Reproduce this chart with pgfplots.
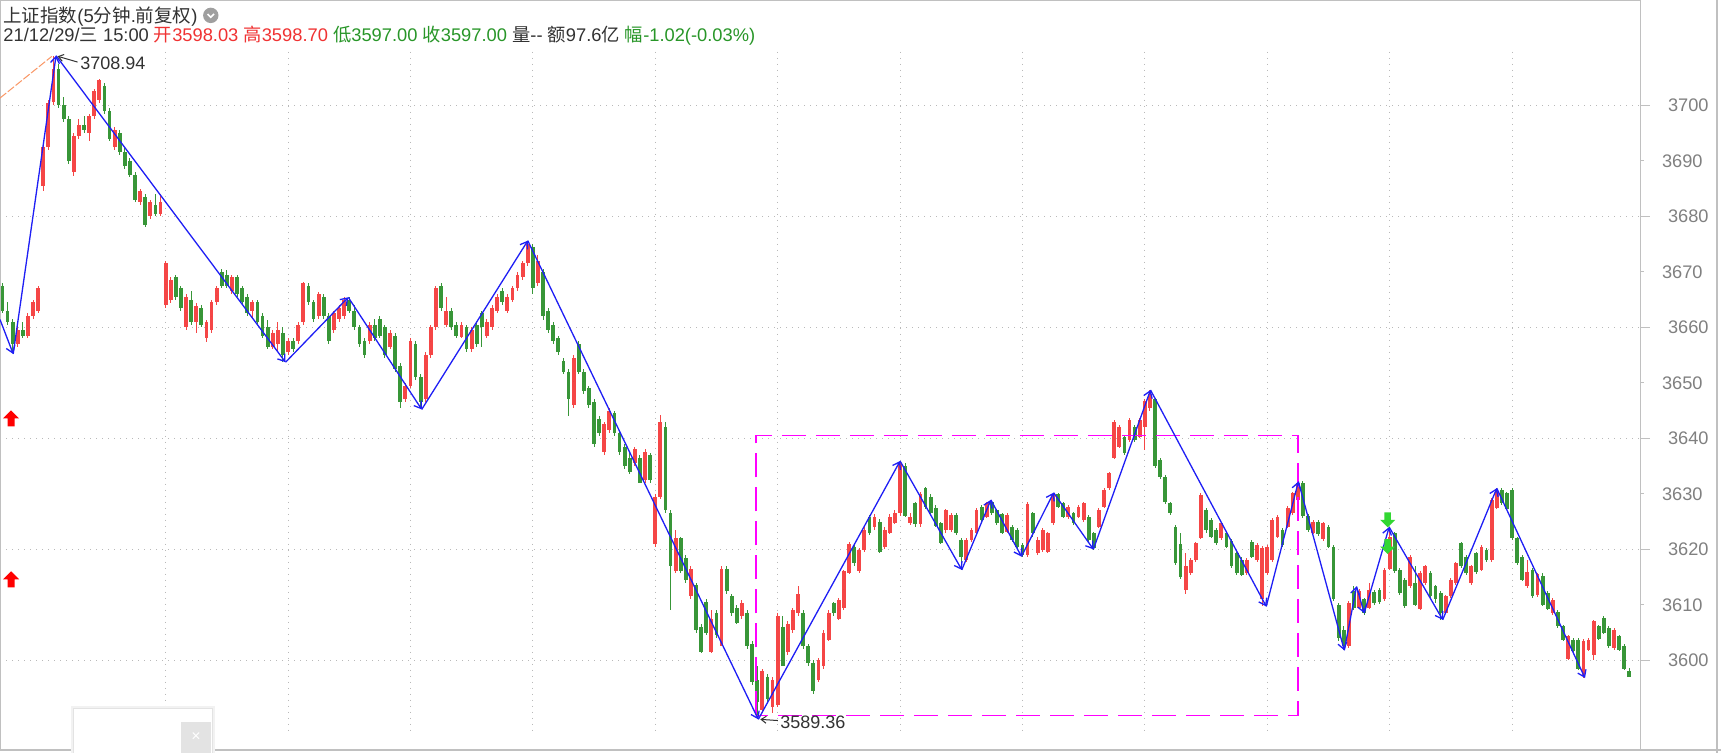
\documentclass[border=0pt]{standalone}
\usepackage{fontspec}
\setmainfont{Liberation Sans}
\newfontfamily\cjkfont{Noto Sans CJK SC}
\newcommand{\cn}[1]{{\cjkfont #1}}
\usepackage{pgfplots}
\pgfplotsset{compat=1.18}
\usepackage{pgfplotstable}
\usetikzlibrary{arrows.meta}

\definecolor{upred}{RGB}{245,70,70}
\definecolor{dngreen}{RGB}{56,150,56}
\definecolor{zzblue}{RGB}{30,30,245}
\definecolor{framegray}{RGB}{192,192,192}
\definecolor{gridgray}{RGB}{185,185,185}
\definecolor{labelgray}{RGB}{128,128,128}
\definecolor{hdrtext}{RGB}{50,50,50}
\definecolor{hdrred}{RGB}{240,50,50}
\definecolor{hdrgreen}{RGB}{40,150,40}
\definecolor{boxmag}{RGB}{255,0,255}
\definecolor{maorange}{RGB}{250,150,100}
\definecolor{sigred}{RGB}{255,0,0}
\definecolor{siggreen}{RGB}{50,215,50}

% block arrows used as signal marks
\pgfdeclareplotmark{sigup}{%
  \pgfpathmoveto{\pgfqpoint{0pt}{4pt}}%
  \pgfpathlineto{\pgfqpoint{4pt}{0pt}}%
  \pgfpathlineto{\pgfqpoint{1.75pt}{0pt}}%
  \pgfpathlineto{\pgfqpoint{1.75pt}{-4pt}}%
  \pgfpathlineto{\pgfqpoint{-1.75pt}{-4pt}}%
  \pgfpathlineto{\pgfqpoint{-1.75pt}{0pt}}%
  \pgfpathlineto{\pgfqpoint{-4pt}{0pt}}%
  \pgfpathclose\pgfusepathqfill}
\pgfdeclareplotmark{sigdown}{%
  \pgfpathmoveto{\pgfqpoint{0pt}{-3.75pt}}%
  \pgfpathlineto{\pgfqpoint{3.75pt}{0pt}}%
  \pgfpathlineto{\pgfqpoint{1.6pt}{0pt}}%
  \pgfpathlineto{\pgfqpoint{1.6pt}{3.75pt}}%
  \pgfpathlineto{\pgfqpoint{-1.6pt}{3.75pt}}%
  \pgfpathlineto{\pgfqpoint{-1.6pt}{0pt}}%
  \pgfpathlineto{\pgfqpoint{-3.75pt}{0pt}}%
  \pgfpathclose\pgfusepathqfill}

% candle styles: wick or body drawn as a vertical error bar, no point mark
\pgfplotsset{
  candle/.style 2 args={only marks, mark=*, mark size=0pt,
    mark options={draw=none, fill=none}, forget plot,
    error bars/y dir=both, error bars/y explicit, error bars/error mark=none,
    error bars/error bar style={draw=#1, line width=#2}},
}

% 10-minute candles (two 5-minute bars each): index, open, high, low, close
\pgfplotstableread{
i o h l c
0 3667.5 3668.0 3662.5 3663.0
1 3663.0 3664.5 3660.5 3661.0
2 3661.0 3661.5 3655.4 3657.0
3 3657.0 3660.0 3656.5 3659.5
4 3659.5 3661.0 3658.0 3658.5
5 3658.5 3662.5 3658.0 3662.0
6 3662.0 3665.0 3661.5 3664.5
7 3663.0 3667.5 3662.5 3667.0
8 3685.5 3693.0 3684.5 3692.5
9 3692.5 3701.0 3692.0 3700.5
10 3700.5 3708.94 3700.0 3706.5
11 3706.5 3707.5 3699.5 3700.0
12 3700.0 3701.5 3697.0 3697.5
13 3697.5 3698.0 3689.5 3690.0
14 3688.0 3695.0 3687.2 3694.5
15 3694.5 3697.5 3694.0 3696.5
16 3696.5 3698.0 3695.0 3695.5
17 3695.0 3698.5 3693.5 3698.0
18 3698.0 3703.0 3697.5 3702.5
19 3701.0 3704.8 3700.5 3704.5
20 3703.5 3704.0 3698.5 3699.0
21 3699.0 3699.5 3693.5 3694.0
22 3692.5 3696.0 3692.0 3695.5
23 3695.0 3695.5 3691.0 3691.5
24 3691.5 3692.5 3688.5 3689.0
25 3690.0 3690.5 3687.0 3687.5
26 3687.5 3688.0 3682.5 3683.0
27 3682.5 3685.0 3682.0 3684.5
28 3683.5 3684.0 3678.0 3678.5
29 3680.0 3683.0 3679.5 3682.5
30 3682.0 3684.0 3680.0 3680.5
31 3680.5 3684.0 3680.0 3682.5
32 3664.0 3672.0 3663.5 3671.5
33 3665.0 3669.0 3664.3 3668.5
34 3669.0 3669.5 3665.0 3665.5
35 3667.0 3667.5 3663.0 3663.5
36 3660.0 3666.0 3659.5 3665.5
37 3665.0 3666.5 3660.5 3661.0
38 3661.0 3664.3 3658.9 3663.8
39 3663.5 3664.0 3660.0 3660.5
40 3658.0 3661.3 3657.4 3661.0
41 3659.5 3665.0 3659.0 3664.5
42 3664.5 3667.5 3664.0 3667.0
43 3670.0 3670.5 3667.0 3667.5
44 3669.5 3670.3 3667.0 3667.5
45 3666.5 3669.5 3666.0 3669.0
46 3669.0 3669.5 3665.5 3666.0
47 3667.0 3667.5 3664.0 3664.5
48 3665.5 3666.0 3662.0 3662.5
49 3663.0 3665.0 3661.5 3664.5
50 3664.5 3665.0 3660.5 3661.0
51 3662.0 3662.5 3658.0 3658.5
52 3660.0 3661.3 3656.0 3656.5
53 3656.5 3659.5 3656.0 3659.0
54 3657.0 3661.0 3655.5 3659.5
55 3659.0 3660.0 3653.7 3655.0
56 3655.5 3658.0 3655.0 3657.5
57 3657.5 3658.0 3655.5 3656.0
58 3657.5 3661.0 3657.0 3660.5
59 3661.0 3668.2 3660.5 3668.0
60 3667.5 3668.0 3664.0 3664.5
61 3664.5 3665.0 3661.0 3661.5
62 3662.0 3666.4 3661.5 3666.0
63 3665.5 3666.0 3661.5 3662.0
64 3662.0 3662.5 3657.0 3657.5
65 3659.5 3663.0 3659.0 3662.5
66 3661.5 3664.0 3661.0 3663.5
67 3662.0 3665.4 3661.5 3665.0
68 3665.0 3665.5 3662.5 3663.0
69 3663.0 3664.0 3659.5 3660.0
70 3660.0 3660.5 3656.5 3657.0
71 3657.5 3658.0 3654.5 3655.0
72 3657.5 3661.0 3657.0 3660.5
73 3660.5 3661.5 3657.5 3658.0
74 3661.5 3662.0 3658.0 3658.5
75 3660.0 3660.5 3654.5 3655.0
76 3656.5 3659.5 3656.0 3659.0
77 3658.5 3659.0 3652.0 3652.5
78 3653.0 3653.5 3645.5 3646.5
79 3647.0 3650.0 3646.5 3649.5
80 3649.5 3658.0 3649.0 3657.5
81 3657.0 3657.5 3650.5 3651.0
82 3651.0 3651.5 3645.2 3646.5
83 3647.0 3655.5 3646.5 3655.0
84 3655.0 3660.5 3654.5 3660.0
85 3660.0 3667.5 3659.5 3667.0
86 3667.5 3668.0 3663.0 3663.5
87 3660.5 3665.5 3660.0 3663.0
88 3663.0 3663.5 3659.5 3660.0
89 3660.5 3661.0 3658.0 3658.5
90 3658.3 3661.0 3658.0 3660.4
91 3660.0 3660.5 3655.5 3656.0
92 3656.0 3660.0 3655.5 3659.5
93 3660.5 3661.0 3656.5 3657.0
94 3662.5 3663.0 3656.5 3660.0
95 3658.5 3661.5 3658.0 3661.0
96 3660.0 3664.0 3659.5 3663.5
97 3663.0 3666.0 3662.5 3665.5
98 3666.5 3667.0 3664.0 3664.5
99 3663.0 3666.0 3662.5 3665.5
100 3665.0 3667.5 3664.5 3667.0
101 3667.0 3670.0 3666.5 3669.5
102 3669.0 3672.0 3668.5 3671.5
103 3671.5 3675.6 3671.0 3675.0
104 3674.5 3675.0 3666.0 3667.0
105 3668.0 3673.0 3667.5 3672.0
106 3670.0 3670.5 3661.3 3662.0
107 3663.0 3663.5 3659.0 3659.5
108 3660.5 3661.0 3657.0 3657.5
109 3658.0 3658.5 3655.0 3655.5
110 3654.0 3654.5 3651.5 3652.0
111 3652.0 3652.5 3644.0 3647.0
112 3646.0 3655.0 3645.5 3654.5
113 3657.0 3657.5 3651.5 3652.0
114 3652.0 3652.5 3648.0 3648.5
115 3649.0 3649.5 3645.5 3646.0
116 3646.5 3647.0 3638.5 3639.0
117 3643.5 3644.0 3640.5 3641.0
118 3637.5 3643.0 3637.0 3642.5
119 3641.5 3645.5 3641.0 3645.0
120 3644.5 3645.0 3640.5 3641.0
121 3641.0 3641.5 3637.0 3637.5
122 3638.5 3639.0 3634.5 3635.0
123 3636.5 3637.3 3633.5 3634.0
124 3635.5 3638.5 3635.0 3638.0
125 3636.5 3637.0 3631.9 3632.0
126 3632.5 3638.0 3632.0 3637.5
127 3637.0 3637.3 3632.0 3632.5
128 3621.0 3630.0 3620.5 3629.5
129 3629.5 3644.2 3629.0 3643.0
130 3642.0 3643.0 3626.5 3627.0
131 3626.5 3627.0 3609.1 3617.0
132 3616.0 3623.5 3615.7 3622.0
133 3622.0 3622.3 3615.7 3616.0
134 3618.5 3619.0 3614.0 3614.5
135 3611.5 3617.0 3611.0 3616.5
136 3613.5 3614.0 3605.0 3605.5
137 3606.0 3606.5 3601.3 3601.5
138 3610.5 3611.0 3604.5 3605.0
139 3601.5 3609.0 3601.3 3607.5
140 3608.5 3609.1 3604.0 3604.5
141 3602.5 3617.0 3602.5 3616.5
142 3616.5 3617.0 3612.0 3612.5
143 3611.5 3612.0 3608.0 3608.5
144 3609.5 3610.0 3606.5 3606.7
145 3607.9 3610.8 3607.5 3610.3
146 3608.5 3609.0 3602.0 3602.5
147 3603.0 3603.5 3595.5 3596.0
148 3596.5 3599.0 3589.36 3592.5
149 3591.0 3598.5 3590.5 3598.0
150 3597.0 3597.5 3592.5 3593.0
151 3591.5 3597.0 3590.5 3596.5
152 3592.0 3608.5 3591.6 3608.0
153 3606.0 3608.0 3598.9 3599.0
154 3601.5 3607.0 3601.0 3606.5
155 3605.5 3609.5 3605.0 3609.0
156 3608.5 3613.3 3608.0 3612.0
157 3608.5 3609.0 3602.0 3602.5
158 3602.5 3603.0 3599.0 3599.5
159 3599.5 3600.0 3594.0 3594.5
160 3596.5 3600.5 3596.0 3600.0
161 3599.0 3605.5 3598.5 3604.9
162 3603.7 3609.0 3603.5 3608.5
163 3610.3 3610.5 3608.0 3608.5
164 3607.5 3611.2 3607.3 3610.9
165 3609.5 3616.3 3609.1 3616.0
166 3615.7 3621.3 3615.5 3621.0
167 3620.5 3621.0 3617.0 3617.5
168 3616.0 3620.2 3615.7 3619.9
169 3619.9 3624.0 3619.5 3623.5
170 3625.9 3626.2 3622.5 3623.0
171 3624.0 3626.3 3623.5 3625.9
172 3625.0 3625.5 3619.3 3619.5
173 3620.5 3624.0 3620.0 3623.5
174 3623.0 3626.3 3622.7 3625.9
175 3624.7 3627.0 3624.5 3626.5
176 3626.5 3635.9 3626.0 3635.5
177 3635.0 3635.5 3625.8 3626.0
178 3624.7 3626.5 3624.3 3625.9
179 3628.3 3628.6 3624.1 3624.5
180 3624.5 3630.3 3624.1 3630.0
181 3631.0 3631.2 3627.3 3627.7
182 3629.5 3630.0 3626.2 3626.5
183 3627.5 3628.0 3624.0 3624.2
184 3624.7 3625.0 3621.0 3621.2
185 3623.5 3627.3 3623.0 3627.0
186 3623.5 3626.6 3623.2 3626.2
187 3626.2 3626.5 3622.5 3622.9
188 3621.7 3622.0 3616.3 3618.7
189 3618.1 3622.0 3617.8 3621.7
190 3621.7 3623.9 3621.4 3623.5
191 3622.9 3627.4 3622.6 3627.1
192 3627.7 3628.0 3625.0 3625.3
193 3625.9 3628.6 3625.6 3628.3
194 3628.5 3628.9 3626.2 3626.5
195 3627.0 3627.3 3624.4 3624.7
196 3626.3 3626.6 3622.7 3623.0
197 3623.2 3626.5 3622.9 3626.2
198 3624.1 3624.4 3621.4 3621.7
199 3623.5 3623.8 3620.2 3620.5
200 3620.8 3621.1 3618.6 3618.9
201 3618.9 3628.5 3618.6 3628.2
202 3626.5 3626.8 3622.3 3623.0
203 3619.3 3622.2 3619.0 3621.7
204 3619.9 3623.8 3619.6 3623.5
205 3619.6 3623.2 3619.3 3622.9
206 3624.7 3630.2 3624.4 3630.0
207 3630.0 3630.2 3627.4 3627.7
208 3628.3 3628.6 3625.6 3625.9
209 3625.9 3628.0 3625.5 3627.7
210 3626.5 3626.8 3624.4 3624.7
211 3625.9 3628.0 3625.6 3627.7
212 3625.3 3628.6 3625.0 3628.3
213 3625.9 3626.2 3621.4 3621.7
214 3622.9 3623.2 3619.9 3620.2
215 3624.1 3627.4 3623.8 3627.1
216 3627.7 3631.0 3627.4 3630.7
217 3631.0 3634.0 3630.7 3633.7
218 3636.5 3643.3 3636.2 3643.0
219 3638.5 3642.4 3638.2 3642.1
220 3640.3 3640.6 3637.0 3637.3
221 3639.7 3643.6 3639.4 3643.3
222 3642.1 3642.4 3639.4 3639.7
223 3640.3 3643.6 3640.0 3643.3
224 3642.1 3647.0 3637.9 3646.8
225 3645.5 3648.7 3645.0 3648.0
226 3647.0 3647.3 3634.7 3635.0
227 3636.0 3636.4 3632.7 3633.0
228 3633.0 3633.3 3628.2 3628.5
229 3628.3 3628.6 3626.2 3626.5
230 3624.0 3624.3 3617.2 3617.5
231 3621.0 3622.9 3614.7 3615.0
232 3612.7 3619.3 3612.0 3617.0
233 3615.7 3618.4 3615.4 3618.1
234 3618.1 3621.4 3617.8 3621.1
235 3622.0 3630.1 3621.8 3629.8
236 3627.1 3627.4 3622.9 3623.5
237 3625.3 3625.6 3622.0 3622.3
238 3623.5 3623.8 3620.8 3621.1
239 3622.1 3625.0 3621.7 3624.7
240 3622.9 3623.2 3620.2 3620.5
241 3621.5 3621.8 3616.7 3617.0
242 3619.3 3619.6 3615.4 3615.7
243 3618.1 3618.7 3615.1 3615.3
244 3615.7 3618.4 3615.4 3618.1
245 3621.4 3621.7 3618.4 3618.7
246 3618.1 3621.1 3617.8 3620.8
247 3611.0 3620.6 3609.7 3620.3
248 3615.7 3620.8 3615.4 3620.5
249 3618.1 3625.6 3617.8 3625.3
250 3622.3 3626.2 3622.0 3625.9
251 3623.5 3623.8 3620.5 3620.8
252 3624.1 3627.8 3623.8 3627.5
253 3626.5 3630.4 3626.2 3630.1
254 3628.9 3632.3 3628.6 3632.0
255 3632.0 3632.3 3625.7 3626.0
256 3626.0 3626.3 3623.2 3623.5
257 3623.0 3625.3 3622.8 3625.0
258 3625.0 3625.3 3622.4 3622.7
259 3621.8 3625.0 3621.5 3624.7
260 3624.1 3624.4 3620.2 3620.5
261 3620.5 3620.8 3610.7 3611.0
262 3610.0 3610.3 3603.5 3604.0
263 3605.5 3606.1 3601.8 3602.5
264 3602.5 3610.6 3602.2 3610.3
265 3612.5 3613.3 3609.1 3609.5
266 3609.5 3612.8 3609.2 3612.5
267 3611.0 3611.2 3608.2 3608.5
268 3609.5 3613.9 3609.2 3612.7
269 3612.3 3612.6 3610.0 3610.3
270 3612.7 3613.0 3610.2 3610.5
271 3611.0 3616.6 3610.7 3616.3
272 3616.5 3624.0 3616.2 3622.3
273 3622.9 3623.2 3615.7 3616.0
274 3616.3 3616.6 3611.8 3612.1
275 3614.5 3614.8 3609.4 3609.7
276 3613.3 3619.0 3613.0 3618.7
277 3613.9 3616.9 3609.7 3609.9
278 3609.3 3616.0 3609.1 3615.7
279 3613.9 3617.2 3613.6 3616.9
280 3615.7 3616.0 3611.2 3611.5
281 3613.3 3613.6 3610.3 3611.0
282 3612.1 3612.4 3607.3 3608.5
283 3608.6 3611.8 3608.3 3611.5
284 3611.5 3614.8 3611.2 3614.5
285 3613.9 3617.8 3613.6 3617.5
286 3621.1 3621.4 3616.7 3617.0
287 3618.7 3619.0 3615.4 3615.7
288 3613.9 3617.2 3613.6 3616.9
289 3619.3 3619.6 3615.6 3615.9
290 3616.3 3620.8 3616.0 3620.5
291 3619.9 3620.2 3617.8 3618.1
292 3618.1 3629.2 3617.8 3628.9
293 3627.5 3631.0 3627.2 3630.5
294 3630.7 3631.0 3628.0 3628.3
295 3630.1 3630.4 3627.0 3627.3
296 3630.7 3631.0 3621.7 3622.0
297 3622.0 3622.3 3617.2 3617.5
298 3618.7 3619.0 3614.2 3614.5
299 3613.3 3618.1 3613.0 3615.9
300 3616.3 3616.6 3611.2 3611.5
301 3611.7 3615.8 3611.4 3615.5
302 3615.2 3615.7 3609.7 3609.9
303 3612.1 3612.4 3609.0 3609.3
304 3608.5 3611.2 3608.2 3610.9
305 3608.7 3609.0 3605.8 3606.1
306 3606.1 3606.4 3603.4 3603.7
307 3600.3 3604.6 3600.0 3604.3
308 3603.7 3604.0 3601.3 3601.6
309 3603.7 3604.0 3598.3 3598.5
310 3597.2 3603.8 3596.8 3603.5
311 3601.9 3604.0 3601.6 3603.7
312 3601.0 3607.3 3600.1 3607.0
313 3606.1 3606.4 3603.6 3603.9
314 3607.6 3607.9 3604.7 3605.0
315 3605.8 3606.1 3602.2 3602.5
316 3602.3 3605.8 3601.9 3605.5
317 3604.3 3604.6 3601.6 3601.9
318 3602.5 3603.0 3598.2 3598.5
319 3598.03 3598.70 3597.00 3597.00
}\candles

% zigzag legs: start and end of each leg
\pgfplotstableread{
x1 y1 x2 y2
-0.49 3661.4 2.1 3655.2
2.1 3655.2 10.5 3708.94
10.5 3708.94 55.5 3653.7
55.5 3653.7 67.8 3665.4
67.8 3665.4 82.2 3645.2
82.2 3645.2 103.0 3675.6
103.0 3675.6 148.2 3589.36
148.2 3589.36 176.0 3635.9
176.0 3635.9 188.1 3616.3
188.1 3616.3 193.8 3628.9
193.8 3628.9 199.8 3618.7
199.8 3618.7 206.1 3630.2
206.1 3630.2 213.9 3620.0
213.9 3620.0 225.1 3648.7
225.1 3648.7 247.8 3609.7
247.8 3609.7 254.1 3632.2
254.1 3632.2 263.1 3601.8
263.1 3601.8 265.5 3613.3
265.5 3613.3 267.0 3608.5
267.0 3608.5 271.9 3624.0
271.9 3624.0 282.4 3607.3
282.4 3607.3 293.0 3631.0
293.0 3631.0 310.3 3596.8
}\zigzag

\begin{document}
\begin{tikzpicture}
\fill[white] (0,-1.5pt) rectangle (860.5pt,375pt);
\begin{axis}[
  at={(0pt,0pt)}, anchor=south west,
  scale only axis, width=820.25pt, height=375pt,
  xmin=-0.49, xmax=321.18, ymin=3583.84, ymax=3718.97,
  axis line style={draw=framegray, line width=0.75pt},
  xtick=\empty,
  ytick={3600,3620,...,3700},
  extra y ticks={3610,3630,...,3690},
  extra y tick style={grid=none, major tick length=1.5pt},
  ytick pos=right, yticklabel pos=right, tick align=outside,
  major tick length=4.5pt,
  tick style={draw=framegray, line width=0.5pt},
  ymajorgrids,
  grid style={draw=gridgray, line width=0.5pt, dash pattern=on 0.5pt off 2.5pt},
  yticklabel style={font=\fontsize{9.1pt}{11pt}\selectfont, text=labelgray,
    anchor=west, inner sep=0pt, xshift=9.1pt},
  scaled y ticks=false,
  /pgf/number format/1000 sep={},
  /pgf/number format/assume math mode=true,
]
% vertical day grid
\pgfplotsinvokeforeach{32,56,80,104,128,152,176,200,224,248,272,296}{
  \draw[draw=gridgray, line width=0.5pt, dash pattern=on 0.5pt off 2.5pt]
    (axis cs:#1,3709.6) -- (axis cs:#1,3587.4);
}

% wicks
\addplot[restrict expr to domain={\thisrow{c}-\thisrow{o}}{0.001:1000},
  candle={upred}{0.5pt}]
  table[x=i, y expr={0.5*(\thisrow{h}+\thisrow{l})},
        y error expr={0.5*(\thisrow{h}-\thisrow{l})}] {\candles};
\addplot[restrict expr to domain={\thisrow{c}-\thisrow{o}}{-1000:0},
  candle={dngreen}{0.5pt}]
  table[x=i, y expr={0.5*(\thisrow{h}+\thisrow{l})},
        y error expr={0.5*(\thisrow{h}-\thisrow{l})}] {\candles};
% bodies
\addplot[restrict expr to domain={\thisrow{c}-\thisrow{o}}{0.001:1000},
  candle={upred}{1.9pt}]
  table[x=i, y expr={0.5*(\thisrow{o}+\thisrow{c})},
        y error expr={0.5*abs(\thisrow{c}-\thisrow{o})}] {\candles};
\addplot[restrict expr to domain={\thisrow{c}-\thisrow{o}}{-1000:0},
  candle={dngreen}{1.9pt}]
  table[x=i, y expr={0.5*(\thisrow{o}+\thisrow{c})},
        y error expr={0.5*abs(\thisrow{c}-\thisrow{o})}] {\candles};

% short moving-average piece at top left
\addplot[maorange, line width=0.5pt, dash pattern=on 4pt off 1pt]
  coordinates {(-0.49,3701.3) (9.65,3708.8)};

% consolidation box
\addplot[boxmag, line width=0.75pt, dash pattern=on 12pt off 5pt]
  coordinates {(147.7,3590.06) (147.7,3640.5) (254.0,3640.5) (254.0,3590.06) (147.7,3590.06)};

% zigzag
\addplot[zzblue, line width=0.65pt,
  quiver={u=\thisrow{x2}-\thisrow{x1}, v=\thisrow{y2}-\thisrow{y1},
    every arrow/.append style={-{Straight Barb[length=3.2pt,width=4.5pt]}}}]
  table[x=x1, y=y1] {\zigzag};

% signals
\addplot[only marks, mark=sigup, color=sigred] coordinates {(1.67,3643.6) (1.67,3614.6)};
\addplot[only marks, mark=sigdown, color=siggreen] coordinates {(271.6,3625.3) (271.6,3620.5)};

% extreme labels
\draw[hdrtext, line width=0.5pt, -{Straight Barb[length=2.5pt,width=3.5pt]}]
  ([xshift=10.5pt,yshift=-3.2pt]axis cs:10.6,3708.94) -- ([xshift=0.5pt,yshift=-0.3pt]axis cs:10.6,3708.94);
\node[anchor=west, inner sep=0pt, text=hdrtext, font=\fontsize{9pt}{10pt}\selectfont]
  at ([xshift=11.7pt,yshift=-4pt]axis cs:10.6,3708.94) {3708.94};
\draw[hdrtext, line width=0.5pt, -{Straight Barb[length=2.5pt,width=3.5pt]}]
  ([xshift=9.8pt,yshift=-0.6pt]axis cs:148.2,3589.36) -- ([xshift=1pt]axis cs:148.2,3589.36);
\node[anchor=west, inner sep=0pt, text=hdrtext, font=\fontsize{9pt}{10pt}\selectfont]
  at ([xshift=10.85pt,yshift=-1.35pt]axis cs:148.2,3589.36) {3589.36};
\end{axis}

% outer frame pieces
\draw[framegray, line width=0.75pt] (0,0) -- (860.5pt,0);
\draw[framegray, line width=0.75pt] (858.5pt,-1.5pt) -- (858.5pt,375pt);

% header
\node[anchor=west, inner sep=0pt, text=hdrtext, font=\fontsize{9.25pt}{11pt}\selectfont]
  at (1.5pt,366.75pt) {\cn{上证指数}(5\cn{分钟}.\cn{前复权})};
\fill[gray!75] (105.4pt,367.3pt) circle (3.85pt);
\draw[white, line width=0.8pt] (103.8pt,368pt) -- (105.4pt,366.4pt) -- (107pt,368pt);
\node[anchor=west, inner sep=0pt, text=hdrtext, font=\fontsize{9.15pt}{11pt}\selectfont]
  at (1.5pt,357pt) {21/12/29/\cn{三} 15:00 {\color{hdrred}\cn{开}3598.03 \cn{高}3598.70}
  {\color{hdrgreen}\cn{低}3597.00 \cn{收}3597.00} \cn{量}-{}- \cn{额}97.6\cn{亿}
  {\color{hdrgreen}\cn{幅}-1.02(-0.03\%)}};

% popup box at bottom left
\fill[black!5] (35.5pt,-1.5pt) rectangle (107.5pt,22pt);
\fill[black!11] (36.3pt,-1.5pt) rectangle (106.7pt,21.2pt);
\fill[white] (37pt,-1.5pt) rectangle (106pt,20.5pt);
\fill[black!11] (90.5pt,-1.5pt) rectangle (105.5pt,14pt);
\node[text=white, inner sep=0pt, font=\fontsize{8pt}{8pt}\selectfont] at (98pt,6.4pt) {×};

\pgfresetboundingbox
\useasboundingbox (0,-1.5pt) rectangle (860.5pt,375pt);
\end{tikzpicture}
\end{document}
